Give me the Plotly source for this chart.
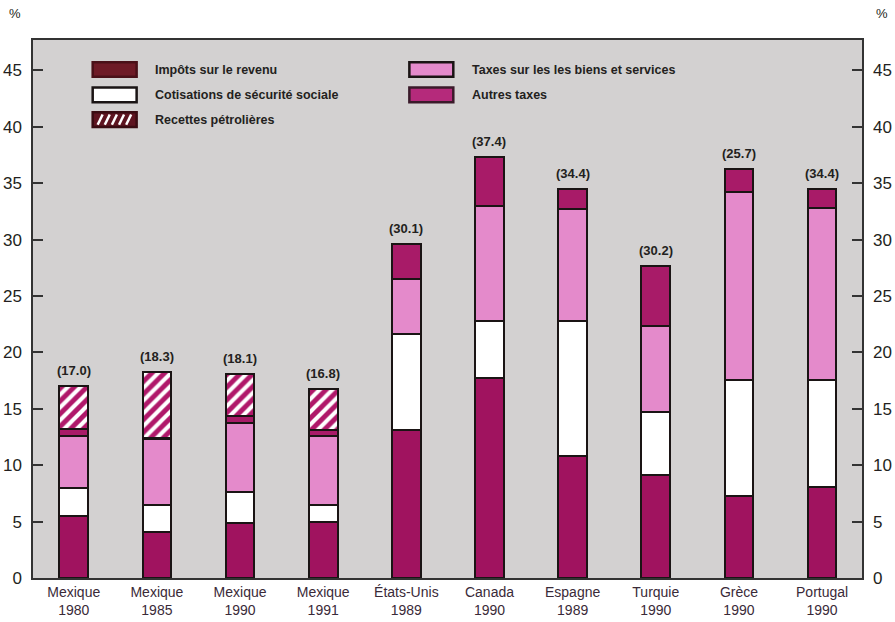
import plotly.graph_objects as go

# Categories (two-line tick labels)
pays = ["Mexique", "Mexique", "Mexique", "Mexique", "États-Unis",
        "Canada", "Espagne", "Turquie", "Grèce", "Portugal"]
annees = ["1980", "1985", "1990", "1991", "1989",
          "1990", "1989", "1990", "1990", "1990"]

# Stacked components (%)
impots_revenu = [5.5, 4.05, 4.85, 4.95, 13.1, 17.75, 10.8, 9.15, 7.3, 8.05]
cotisations = [2.5, 2.4, 2.75, 1.5, 8.5, 5.05, 12.0, 5.55, 10.25, 9.5]
taxes_biens = [4.6, 5.85, 6.15, 6.15, 4.9, 10.2, 9.9, 7.65, 16.7, 15.25]
autres_taxes = [0.6, 0.15, 0.6, 0.55, 3.1, 4.3, 1.8, 5.35, 2.05, 1.65]
recettes_petrole = [3.8, 5.85, 3.75, 3.65, 0, 0, 0, 0, 0, 0]

# Figures printed above each bar
etiquettes = ["(17.0)", "(18.3)", "(18.1)", "(16.8)", "(30.1)",
              "(37.4)", "(34.4)", "(30.2)", "(25.7)", "(34.4)"]

y_ticks = [0, 5, 10, 15, 20, 25, 30, 35, 40, 45]

C_REVENU = "#a0135f"
C_SOCIAL = "#ffffff"
C_BIENS = "#e48acb"
C_AUTRES = "#a81b68"
C_PETROLE = "#b0186a"
OUTLINE = "#1a1414"
BG = "#d3d1d1"
TXT = "#231f20"

x = list(range(len(pays)))
ticktext = [f"{p}<br>{a}" for p, a in zip(pays, annees)]
bar_w = 0.345

fig = go.Figure()

series = [
    ("Impôts sur le revenu", impots_revenu, C_REVENU, None),
    ("Cotisations de sécurité sociale", cotisations, C_SOCIAL, None),
    ("Taxes sur les les biens et services", taxes_biens, C_BIENS, None),
    ("Autres taxes", autres_taxes, C_AUTRES, None),
    ("Recettes pétrolières", recettes_petrole, C_PETROLE, "/"),
]

for name, vals, col, pat in series:
    marker = dict(color=col, line=dict(color=OUTLINE, width=2.5))
    if pat:
        marker["pattern"] = dict(shape=pat, fillmode="replace", bgcolor=col,
                                 fgcolor="#ffffff", size=9, solidity=0.45)
    fig.add_trace(go.Bar(
        x=x, y=vals, name=name, width=bar_w, marker=marker,
        showlegend=False, hoverinfo="name+y"))

# Invisible trace driving the right-hand axis
fig.add_trace(go.Scatter(x=[x[0]], y=[0], yaxis="y2", mode="markers",
                         marker=dict(opacity=0), showlegend=False,
                         hoverinfo="skip"))

totals = [sum(v) for v in zip(impots_revenu, cotisations, taxes_biens,
                                autres_taxes, recettes_petrole)]
for xi, tot, lab in zip(x, totals, etiquettes):
    fig.add_annotation(x=xi, y=tot, text=f"<b>{lab}</b>", showarrow=False,
                       yanchor="bottom", yshift=6,
                       font=dict(family="Liberation Sans, Arial", size=13,
                                 color=TXT))

# Legend drawn as swatches + labels inside the plot area
legend_items = [
    (0.072, 0.945, "Impôts sur le revenu", "#6e1a26", None, "#4a1018"),
    (0.072, 0.898, "Cotisations de sécurité sociale", "#ffffff", None, OUTLINE),
    (0.072, 0.852, "Recettes pétrolières", "#5e1420", "stripes", "#3a0c12"),
    (0.454, 0.945, "Taxes sur les les biens et services", C_BIENS, None, OUTLINE),
    (0.454, 0.898, "Autres taxes", "#b52a7b", None, "#3a1a2a"),
]
sw_w, sw_h = 0.053, 0.027
for lx, ly, txt, col, kind, lc in legend_items:
    fig.add_shape(type="rect", xref="paper", yref="paper",
                  x0=lx, x1=lx + sw_w, y0=ly - sw_h / 2, y1=ly + sw_h / 2,
                  fillcolor=col, line=dict(color=lc, width=2.5), layer="above")
    if kind == "stripes":
        n = 5
        for k in range(n):
            sx = lx + 0.006 + k * (sw_w - 0.01) / n
            fig.add_shape(type="line", xref="paper", yref="paper",
                          x0=sx, x1=sx + 0.006, y0=ly - sw_h / 2 + 0.004,
                          y1=ly + sw_h / 2 - 0.004,
                          line=dict(color="#ffffff", width=2.5), layer="above")
    fig.add_annotation(xref="paper", yref="paper", x=lx + sw_w + 0.02, y=ly,
                       text=f"<b>{txt}</b>", showarrow=False, xanchor="left",
                       yanchor="middle",
                       font=dict(family="Liberation Sans, Arial", size=12.5,
                                 color=TXT))

# "%" unit markers above both axes
for px in (-0.022, 1.024):
    fig.add_annotation(xref="paper", yref="paper", x=px, y=1.05, text="%",
                       showarrow=False, xanchor="center", yanchor="middle",
                       font=dict(family="Liberation Sans, Arial", size=13,
                                 color=TXT))

yr = [0, 47.7]
axis_font = dict(family="Liberation Sans, Arial", size=17, color=TXT)
fig.update_layout(
    width=895, height=622,
    margin=dict(l=33, r=33, t=40, b=44),
    paper_bgcolor="#ffffff",
    plot_bgcolor=BG,
    barmode="stack",
    bargap=0,
    xaxis=dict(
        tickmode="array", tickvals=x, ticktext=ticktext, automargin=False,
        range=[-0.49, 9.48], showgrid=False, zeroline=False,
        showline=True, linecolor="#333333", linewidth=1.5, mirror=True,
        ticks="", ticklabelstandoff=0,
        tickfont=dict(family="Liberation Sans Narrow, Arial Narrow, Liberation Sans",
                      size=14, color="#3a2a38"),
    ),
    yaxis=dict(
        range=yr, tickmode="array", tickvals=y_ticks, showgrid=False,
        automargin=False,
        zeroline=False, showline=True, linecolor="#333333", linewidth=1.5,
        mirror=True, ticks="inside", ticklen=10, tickwidth=1.5,
        tickcolor="#333333", tickfont=axis_font, ticklabelstandoff=6,
    ),
    yaxis2=dict(
        range=yr, overlaying="y", side="right", tickmode="array",
        automargin=False,
        tickvals=y_ticks, showgrid=False, zeroline=False, showline=False,
        ticks="inside", ticklen=10, tickwidth=1.5, tickcolor="#333333",
        tickfont=axis_font, ticklabelstandoff=10,
    ),
)

fig.write_html("out.html")
